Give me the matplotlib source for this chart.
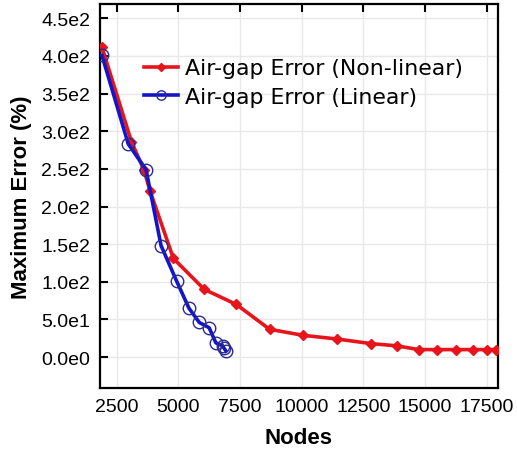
import matplotlib
matplotlib.use("Agg")
import matplotlib.pyplot as plt
from matplotlib.ticker import FuncFormatter, MultipleLocator

# air-gap error vs. mesh size
nodes_nonlinear = [1900, 3100, 3600, 3850, 4800, 6050, 7350, 8700, 10050, 11450,
                   12800, 13850, 14750, 15500, 16250, 16950, 17500, 17900]
error_nonlinear = [412, 286, 249, 221, 131, 90, 70, 37, 29, 24,
                   18, 15, 10, 10, 10, 10, 10, 10]

nodes_linear = [1900, 2970, 3690, 4300, 4930, 5430, 5850, 6250, 6520, 6800, 6850, 6930]
error_linear = [401, 283, 249, 148, 101, 65, 46, 39, 19, 15, 12, 8]

x_ticks = [2500, 5000, 7500, 10000, 12500, 15000, 17500]


def sci_fmt(v, pos):
    if v == 0:
        return "0.0e0"
    e = 0
    m = abs(v)
    while m >= 10:
        m /= 10
        e += 1
    return f"{v / 10 ** e:.1f}e{e}"


fig = plt.figure(figsize=(5.17, 4.52), dpi=100)
ax = fig.add_axes([0.1934, 0.1394, 0.7698, 0.8495])

ax.plot(nodes_nonlinear, error_nonlinear, color="#e8141c", lw=2.6, marker="D",
        ms=5.5, mfc="#e8141c", mec="#e8141c", label="Air-gap Error (Non-linear)", zorder=3)
ax.plot(nodes_linear, error_linear, color="#1414c8", lw=2.6, marker="o",
        ms=9, mfc="none", mec="#2a2a90", mew=1.0, label="Air-gap Error (Linear)", zorder=4)

ax.set_xlim(1823, 17960)
ax.set_ylim(-41, 469)
ax.set_xticks(x_ticks)
ax.yaxis.set_major_locator(MultipleLocator(50))
ax.yaxis.set_major_formatter(FuncFormatter(sci_fmt))

ax.grid(True, color="#e8e8e8", lw=1.0)
ax.set_axisbelow(True)
for s in ax.spines.values():
    s.set_linewidth(1.6)

ax.tick_params(axis="y", direction="in", length=6, width=1.5, labelsize=14, pad=7)
ax.tick_params(axis="x", direction="in", length=6, width=1.5, labelsize=14,
               top=True, bottom=False, pad=7)
for lab in ax.get_xticklabels() + ax.get_yticklabels():
    lab.set_family("Liberation Sans")

ax.set_xlabel("Nodes", fontsize=16, fontweight="bold", family="Liberation Sans", labelpad=9)
ax.set_ylabel("Maximum Error (%)", fontsize=16, fontweight="bold", family="Liberation Sans", labelpad=7)

leg = ax.legend(loc="upper left", bbox_to_anchor=(0.062, 0.91), frameon=False,
                prop={"family": "DejaVu Sans", "size": 15.8}, handlelength=1.55,
                handletextpad=0.3, labelspacing=0.38, markerscale=0.75)

fig.savefig("out.png", dpi=100)
